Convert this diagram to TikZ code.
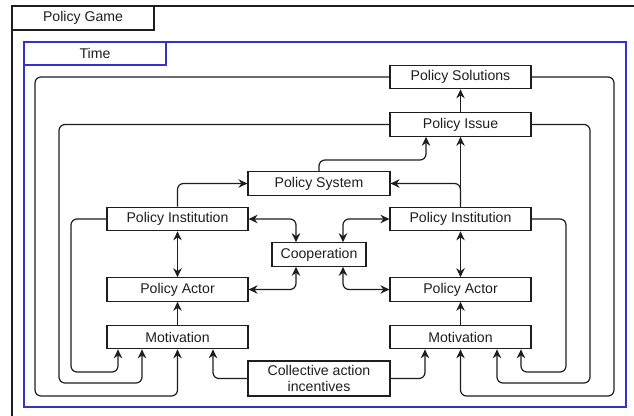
\documentclass[tikz,border=0pt]{standalone}
\usepackage{fontspec}
\setmainfont{Liberation Sans}
\usetikzlibrary{arrows.meta,calc}
\definecolor{frameblue}{RGB}{51,51,204}
\definecolor{ink}{RGB}{30,30,30}
\begin{document}
\begin{tikzpicture}[x=1pt,y=-1pt,
  every node/.style={font=\fontsize{14.1}{16.5}\selectfont, text=ink},
  box/.style={draw=ink, line width=1.2pt, minimum width=141pt, minimum height=23.5pt, inner sep=0pt, fill=white},
  link/.style={draw=ink, line width=1.2pt, rounded corners=6pt},
  arr/.style={link, -{Stealth[length=9pt,width=8.5pt,inset=3pt]}},
  darr/.style={link, {Stealth[length=9pt,width=8.5pt,inset=3pt]}-{Stealth[length=9pt,width=8.5pt,inset=3pt]}}]
\useasboundingbox (0,0) rectangle (634,415);
\clip (0,0) rectangle (634,415);
\fill[white] (0,0) rectangle (634,415);
% frames
\draw[ink, line width=1.2pt] (12,6) rectangle (660,440);
\node[box, minimum width=142pt, minimum height=24pt] (game) at (83,18) {Policy Game};
\draw[frameblue, line width=1.2pt] (24,42) rectangle (626,407);
\node[box, draw=frameblue, minimum width=142pt, minimum height=23pt] (time) at (95,53.5) {Time};
% nodes
\node[box] (sol) at (460.5,77) {Policy Solutions};
\node[box] (iss) at (460.5,124.5) {Policy Issue};
\node[box, minimum width=142pt] (sys) at (319,183.5) {Policy System};
\node[box] (pil) at (177.5,219) {Policy Institution};
\node[box] (pal) at (177.5,289.5) {Policy Actor};
\node[box] (mol) at (177.5,337) {Motivation};
\node[box] (pir) at (460.5,219) {Policy Institution};
\node[box] (par) at (460.5,289.5) {Policy Actor};
\node[box] (mor) at (460.5,337) {Motivation};
\node[box, minimum width=94pt] (coop) at (319,254.5) {Cooperation};
\node[box, minimum width=142pt, minimum height=35pt, align=center] (cai) at (319,378.5) {Collective action\\incentives};
% connectors
\draw[arr] (iss) -- (sol);
\draw[arr] (pir) -- (iss);
\draw[arr] (pir.north) |- (sys.east);
\draw[arr] (sys.north) |- (426,160) -- ([xshift=-34.5pt]iss.south);
\draw[arr] (pil.north) |- (sys.west);
\draw[darr] (pil) -- (pal);
\draw[arr] (mol) -- (pal);
\draw[darr] (pir) -- (par);
\draw[arr] (mor) -- (par);
\draw[darr] (pil.east) -| ([xshift=-23pt]coop.north);
\draw[darr] (pal.east) -| ([xshift=-23pt]coop.south);
\draw[darr] (pir.west) -| ([xshift=24pt]coop.north);
\draw[darr] (par.west) -| ([xshift=24pt]coop.south);
\draw[arr] (cai.west) -| ([xshift=35.5pt]mol.south);
\draw[arr] (cai.east) -| ([xshift=-35.5pt]mor.south);
% feedback loops left
\draw[arr] (pil.west) -| (71,372) -| ([xshift=-59.5pt]mol.south);
\draw[arr] (iss.west) -| (59,383) -| ([xshift=-35.5pt]mol.south);
\draw[arr] (sol.west) -| (35,396) -| (mol.south);
% feedback loops right
\draw[arr] (pir.east) -| (566,372) -| ([xshift=60.5pt]mor.south);
\draw[arr] (iss.east) -| (590,383) -| ([xshift=36.5pt]mor.south);
\draw[arr] (sol.east) -| (614,396) -| (mor.south);
\end{tikzpicture}
\end{document}
